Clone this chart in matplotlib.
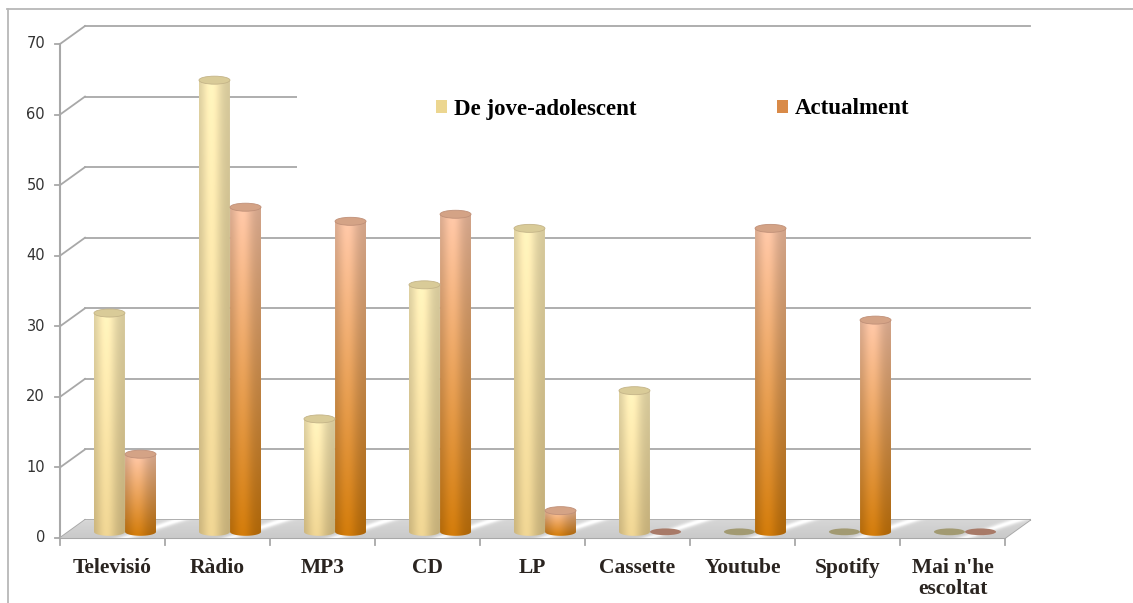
import numpy as np
import matplotlib
matplotlib.use("Agg")
import matplotlib.pyplot as plt
from matplotlib.patches import Ellipse, Polygon, PathPatch, Rectangle, Patch
from matplotlib.path import Path
from matplotlib.lines import Line2D

categories = ["Televisió", "Ràdio", "MP3", "CD", "LP", "Cassette",
              "Youtube", "Spotify", "Mai n'he\nescoltat"]
jove = [31, 64, 16, 35, 43, 20, 0, 0, 0]
actual = [11, 46, 44, 45, 3, 0, 43, 30, 0]
series_names = ["De jove-adolescent", "Actualment"]
yticks = [0, 10, 20, 30, 40, 50, 60, 70]

serif = "Liberation Serif"
fs = 15.5

# pixel geometry of the reference -> data limits
W, H = 1133, 603
x0px, catpx = 60, 105.0
y0px, unitpx = 538, 494 / 70.0
dx = 25 / catpx
dy = 18 / unitpx
n = len(categories)

fig = plt.figure(figsize=(W / 100, H / 100), dpi=100)
ax = fig.add_axes([0, 0, 1, 1])
ax.axis("off")

grid_c = "#a8a8a8"

# back grid lines with the diagonal links to the front axis
for v in yticks:
    ax.plot([0, dx], [v, v + dy], color=grid_c, lw=1.3, zorder=1)
    ax.plot([dx, n + dx], [v + dy, v + dy], color=grid_c, lw=1.3, zorder=1)
    ax.plot([-5 / catpx, 0], [v, v], color=grid_c, lw=1.3, zorder=1)
    ax.text(-15 / catpx, v, str(v), ha="right", va="center", fontsize=10.5,
            color="#333333", family="DejaVu Sans")

# white area behind the legend
ax.add_patch(Rectangle((2.26, 45.5), n, 24.5, facecolor="white",
                       edgecolor="none", zorder=1.5))

# front axes
ax.plot([0, 0], [0, 70], color=grid_c, lw=1.5, zorder=2)
ax.plot([0, n], [0, 0], color=grid_c, lw=1.5, zorder=2)
for i in range(n + 1):
    ax.plot([i, i], [0, -7 / unitpx], color=grid_c, lw=1.3, zorder=2)
ax.plot([n, n + dx], [0, dy], color=grid_c, lw=1.3, zorder=2)

# floor with streaky sheen
fl = np.array([[0, 0], [n, 0], [n + dx, dy], [dx, dy]])
floor = Polygon(fl, closed=True, facecolor="none", edgecolor="none",
                transform=ax.transData)
ax.add_patch(floor)
uu, vv = np.meshgrid(np.linspace(0, n + dx, 1500), np.linspace(0, dy, 40))
s = np.mod(uu - 0.5 * vv / dy, 1.0)
g = 0.79 + 0.05 * (vv / dy) + 0.18 * np.exp(-((s - 0.62) / 0.08) ** 2)
g = np.clip(g, 0, 1)
tex = np.dstack([g, g, g])
im = ax.imshow(tex, extent=[0, n + dx, 0, dy], origin="lower", aspect="auto",
               interpolation="bilinear", zorder=2.2)
im.set_clip_path(floor)

cap_h = 8 / unitpx
bw = 0.295
styles = [
    dict(top=np.array([0.99, 0.93, 0.72]), bot=np.array([0.91, 0.81, 0.56]),
         cap="#d9cb98", edge="#c4b488", flat="#a29a72"),
    dict(top=np.array([0.97, 0.76, 0.64]), bot=np.array([0.80, 0.47, 0.04]),
         cap="#d4a386", edge="#c09078", flat="#a87a68"),
]


def cylinder(xc, base, val, st, z):
    if val <= 0:
        ax.add_patch(Ellipse((xc, base), bw, cap_h * 0.85, facecolor=st["flat"],
                             edgecolor="none", zorder=z))
        return
    top = base + val
    x1, x2 = xc - bw / 2, xc + bw / 2
    ang = np.linspace(np.pi, 2 * np.pi, 40)
    pts = [(xc + bw / 2 * np.cos(a), base + cap_h / 2 * np.sin(a)) for a in ang]
    pts += [(x2, top), (x1, top), (x1, base)]
    outline = PathPatch(Path(pts), facecolor="none", edgecolor="none",
                        transform=ax.transData)
    ax.add_patch(outline)
    t = np.linspace(0, 1, 60)
    shade = 0.84 + 0.20 * np.exp(-((t - 0.4) / 0.32) ** 2)
    yf = np.linspace(0, 1, 100)[:, None, None]
    col = st["bot"] * (1 - yf) + st["top"] * yf
    img = np.clip(col * shade[None, :, None], 0, 1)
    cim = ax.imshow(img, extent=[x1, x2, base - cap_h / 2, top], origin="lower",
                    aspect="auto", interpolation="bilinear", zorder=z)
    cim.set_clip_path(outline)
    ax.add_patch(Ellipse((xc, top), bw, cap_h, facecolor=st["cap"],
                         edgecolor=st["edge"], lw=0.6, zorder=z + 0.1))


base = dy / 2 - 0.4
for i in range(n):
    c = i + 0.5 + dx / 2
    cylinder(c - 0.148, base, jove[i], styles[0], 3 + i * 0.01)
    cylinder(c + 0.148, base, actual[i], styles[1], 3.005 + i * 0.01)

for i, lab in enumerate(categories):
    ax.text(i + 0.5, -2.8, lab, ha="center", va="top", fontsize=fs,
            fontweight="bold", family=serif, color="#2a2420", linespacing=1.08)

handles = [Patch(facecolor="#ecd690", edgecolor="none"),
           Patch(facecolor="#d98a48", edgecolor="none")]
ax.legend(handles, series_names, ncol=2, loc="center left",
          bbox_to_anchor=(436 / W, 1 - 109 / H), bbox_transform=fig.transFigure,
          frameon=False, borderpad=0, borderaxespad=0, handlelength=0.5,
          handleheight=0.5, handletextpad=0.3, columnspacing=6.1,
          prop=dict(family=serif, weight="bold", size=16.5))

# outer frame of the slide
fig.add_artist(Line2D([7 / W, 1], [1 - 9 / H, 1 - 9 / H], transform=fig.transFigure,
                      color="#b8b8b8", lw=1.3))
fig.add_artist(Line2D([8 / W, 8 / W], [0, 1 - 9 / H], transform=fig.transFigure,
                      color="#b8b8b8", lw=1.3))

ax.set_xlim(-x0px / catpx, (W - x0px) / catpx)
ax.set_ylim(-(H - y0px) / unitpx, y0px / unitpx)

fig.savefig("out.png", dpi=100)
